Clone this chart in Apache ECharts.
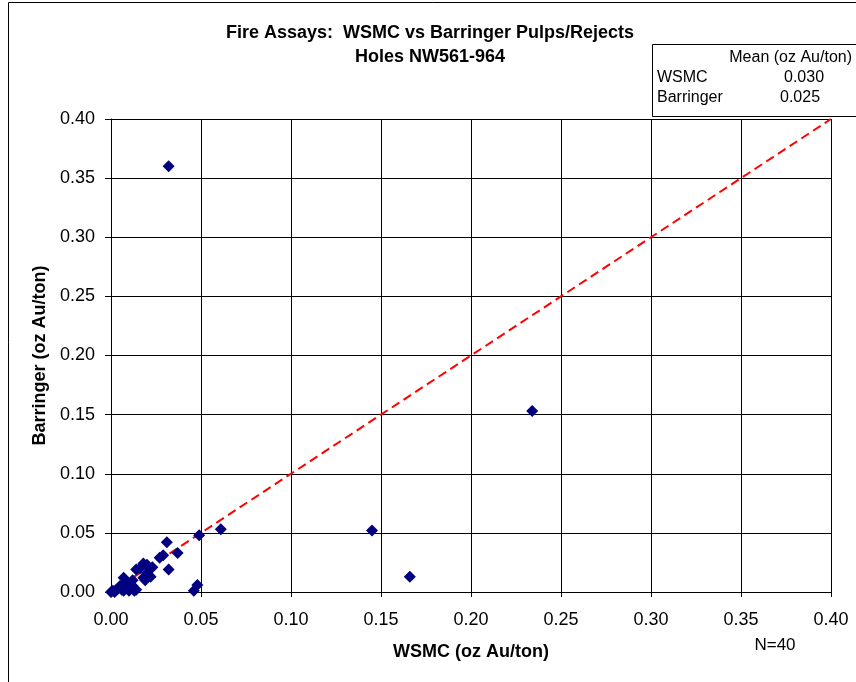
<!DOCTYPE html>
<html>
<head>
<meta charset="utf-8">
<script src="https://cdn.jsdelivr.net/npm/echarts@6/dist/echarts.min.js"></script>
<style>
html,body{margin:0;padding:0;background:#fff;}
#chart{width:856px;height:682px;}
</style>
</head>
<body>
<div id="chart"></div>
<script>
// WSMC vs Barringer fire assays (oz Au/ton)
const wsmc = [0.032,0.234,0.145,0.166,0.061,0.049,0.048,0.046,0.031,0.037,0.029,0.027,0.032,
  0.023,0.020,0.018,0.014,0.016,0.020,0.022,0.018,0.019,0.012,0.007,0.008,0.005,0.012,
  0.014,0.010,0.003,0.001,0.000,0.007,0.010,0.004,0.002,0.006,0.011,0.013,0.009];
const barringer = [0.360,0.153,0.052,0.013,0.053,0.048,0.006,0.001,0.042,0.033,0.031,0.029,0.019,
  0.021,0.023,0.024,0.019,0.020,0.016,0.013,0.012,0.010,0.010,0.012,0.008,0.005,0.005,
  0.002,0.003,0.002,0.001,0.000,0.001,0.001,0.003,0.000,0.002,0.006,0.001,0.004];
const refX = [0, 0.40];
const refY = [0, 0.40];
const xTicks = [0,0.05,0.10,0.15,0.20,0.25,0.30,0.35,0.40];
const yTicks = [0,0.05,0.10,0.15,0.20,0.25,0.30,0.35,0.40];
const meanLabels = ['WSMC','Barringer'];
const meanValues = ['0.030','0.025'];
const titleLines = ['Fire Assays:  WSMC vs Barringer Pulps/Rejects','Holes NW561-964'];

const FONT = '"Liberation Sans", Arial, sans-serif';
const chart = echarts.init(document.getElementById('chart'), null, {renderer:'canvas'});
const pts = wsmc.map((v,i)=>[v, barringer[i]]);
const refLine = refX.map((v,i)=>[v, refY[i]]);

chart.setOption({
  backgroundColor:'#ffffff',
  animation:false,
  grid:{left:111, top:119, right:25, bottom:90, containLabel:false},
  xAxis:{
    type:'value', min:xTicks[0], max:xTicks[xTicks.length-1], interval:0.05,
    name:'WSMC (oz Au/ton)', nameLocation:'middle', nameGap:51,
    nameTextStyle:{fontFamily:FONT, fontSize:18, fontWeight:'bold', color:'#000'},
    axisLine:{show:true, onZero:false, lineStyle:{color:'#000', width:1}},
    axisTick:{show:true, inside:false, length:5, lineStyle:{color:'#000'}},
    axisLabel:{fontFamily:FONT, fontSize:18, color:'#000', margin:19, formatter:v=>v.toFixed(2)},
    splitLine:{show:true, lineStyle:{color:'#000', width:1}}
  },
  yAxis:{
    type:'value', min:yTicks[0], max:yTicks[yTicks.length-1], interval:0.05,
    name:'Barringer (oz Au/ton)', nameLocation:'middle', nameGap:62,
    nameTextStyle:{fontFamily:FONT, fontSize:18, fontWeight:'bold', color:'#000'},
    axisLine:{show:true, onZero:false, lineStyle:{color:'#000', width:1}},
    axisTick:{show:true, inside:false, length:6, lineStyle:{color:'#000'}},
    axisLabel:{fontFamily:FONT, fontSize:18, color:'#000', margin:16, formatter:v=>v.toFixed(2)},
    splitLine:{show:true, lineStyle:{color:'#000', width:1}}
  },
  series:[
    {
      type:'line', data:refLine, symbol:'none', silent:true,
      lineStyle:{color:'#ff0000', width:2, type:[9,5]}, z:2
    },
    {
      type:'scatter', data:pts, symbol:'diamond', symbolSize:[12,12],
      itemStyle:{color:'#000080', opacity:1}, z:3
    }
  ],
  graphic:[
    {type:'rect', shape:{x:8.5,y:2.5,width:900,height:720}, style:{fill:'none', stroke:'#000', lineWidth:1}, z:0, silent:true},
    {type:'text', x:430, y:33, style:{text:titleLines[0], font:'bold 18px '+FONT, fill:'#000', textAlign:'center', textVerticalAlign:'middle'}},
    {type:'text', x:430, y:57, style:{text:titleLines[1], font:'bold 18px '+FONT, fill:'#000', textAlign:'center', textVerticalAlign:'middle'}},
    {type:'rect', shape:{x:652.5,y:44.5,width:250,height:72}, style:{fill:'#fff', stroke:'#000', lineWidth:1}, z:10},
    {type:'text', x:852, y:58, z:11, style:{text:'Mean (oz Au/ton)', font:'16px '+FONT, fill:'#000', textAlign:'right', textVerticalAlign:'middle'}},
    {type:'text', x:657, y:78, z:11, style:{text:meanLabels[0], font:'16px '+FONT, fill:'#000', textAlign:'left', textVerticalAlign:'middle'}},
    {type:'text', x:657, y:98, z:11, style:{text:meanLabels[1], font:'16px '+FONT, fill:'#000', textAlign:'left', textVerticalAlign:'middle'}},
    {type:'text', x:784, y:78, z:11, style:{text:meanValues[0], font:'16px '+FONT, fill:'#000', textAlign:'left', textVerticalAlign:'middle'}},
    {type:'text', x:780, y:98, z:11, style:{text:meanValues[1], font:'16px '+FONT, fill:'#000', textAlign:'left', textVerticalAlign:'middle'}},
    {type:'text', x:775, y:645, style:{text:'N=40', font:'17px '+FONT, fill:'#000', textAlign:'center', textVerticalAlign:'middle'}}
  ]
});
</script>
</body>
</html>
